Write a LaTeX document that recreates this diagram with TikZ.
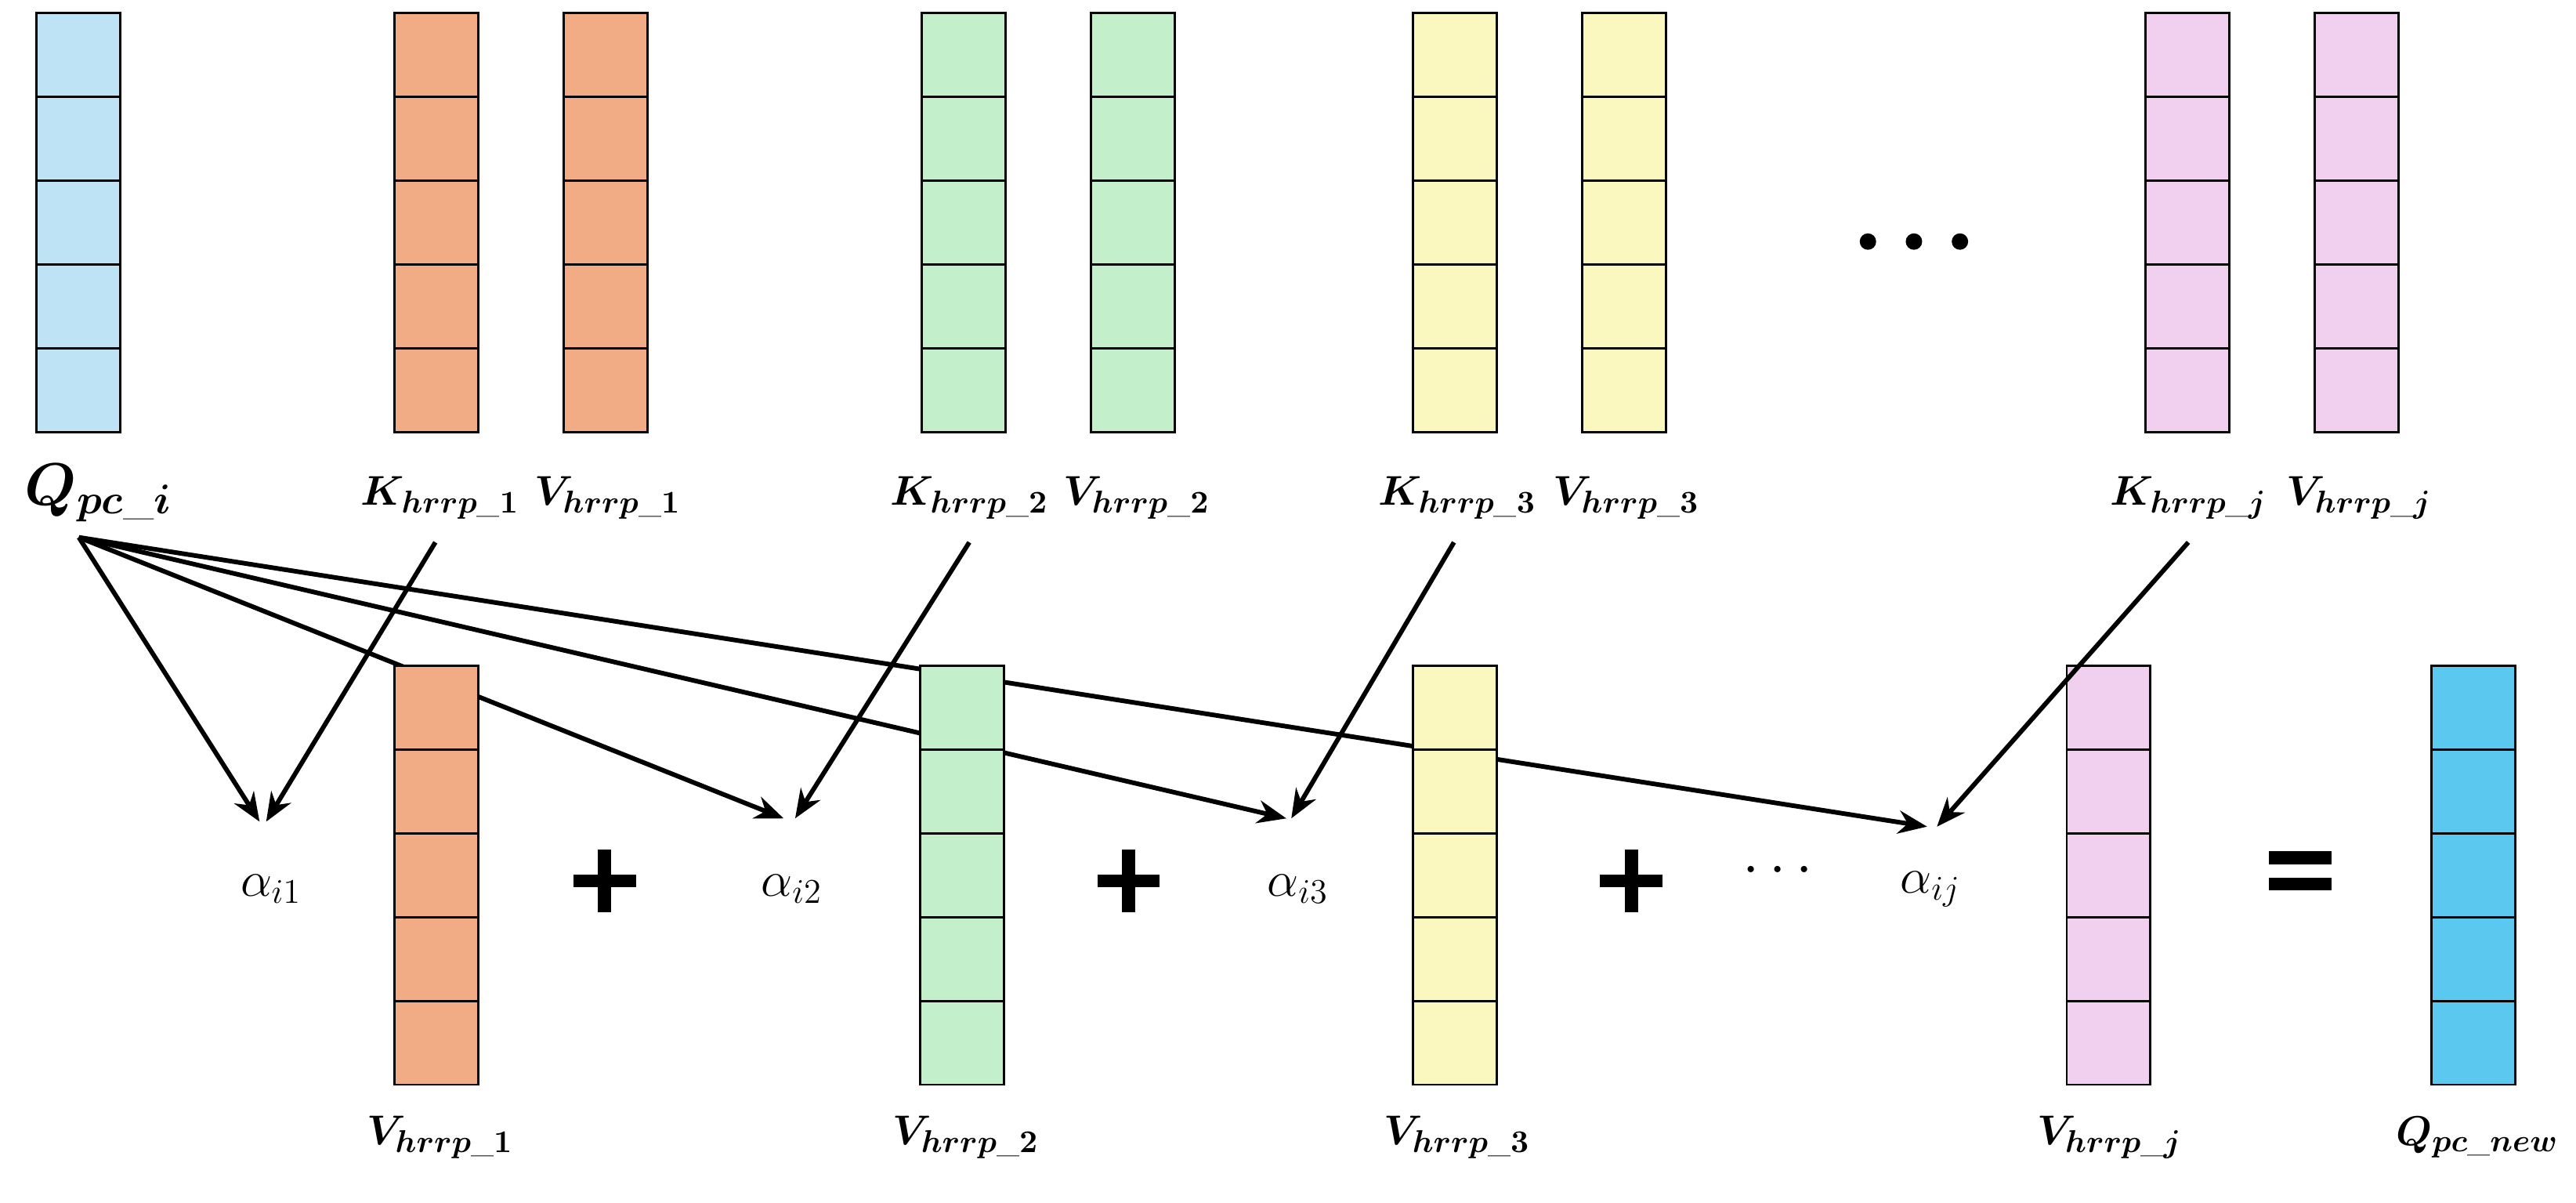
\documentclass[tikz,border=0pt]{standalone}
\usepackage{amsmath,bm}
\usetikzlibrary{arrows.meta,calc}
\definecolor{cq}{HTML}{BDE3F5}
\definecolor{co}{HTML}{F2AC85}
\definecolor{cg}{HTML}{C3F0CB}
\definecolor{cy}{HTML}{FAF8BE}
\definecolor{cp}{HTML}{F0D0EE}
\definecolor{cn}{HTML}{5BC8F0}
\begin{document}
\begin{tikzpicture}[x=0.02cm,y=-0.02cm,
  arr/.style={line width=1.6pt,-{Stealth[length=10pt,width=8pt]}},
  lbl/.style={font=\fontsize{15}{18}\selectfont},
  sym/.style={line width=4.5pt}]
\useasboundingbox (0,0) rectangle (1568,732);
\newcommand{\vcol}[4]{% x, ytop, color, name
  \foreach \k in {0,...,4}{\draw[fill=#3,line width=0.8pt] (#1,{#2+\k*51}) rectangle ({#1+51},{#2+(\k+1)*51});}
  \coordinate (#4) at ({#1+25.5},{#2+127.5});}
\vcol{22}{8}{cq}{q}
\vcol{240}{8}{co}{k1}\vcol{343}{8}{co}{v1}
\vcol{561}{8}{cg}{k2}\vcol{664}{8}{cg}{v2}
\vcol{860}{8}{cy}{k3}\vcol{963}{8}{cy}{v3}
\vcol{1306}{8}{cp}{kj}\vcol{1409}{8}{cp}{vj}
\foreach \xx in {1137,1165,1193} \fill (\xx,147) circle (5);
\node[font=\fontsize{22}{24}\selectfont] (ql) at (60,300) {$\bm{Q_{pc\_i}}$};
\node[lbl] (kl1) at (268,303) {$\bm{K_{hrrp\_1}}$};
\node[lbl] (vl1) at (370,303) {$\bm{V_{hrrp\_1}}$};
\node[lbl] (kl2) at (590,303) {$\bm{K_{hrrp\_2}}$};
\node[lbl] (vl2) at (692,303) {$\bm{V_{hrrp\_2}}$};
\node[lbl] (kl3) at (887,303) {$\bm{K_{hrrp\_3}}$};
\node[lbl] (vl3) at (990,303) {$\bm{V_{hrrp\_3}}$};
\node[lbl] (klj) at (1332,303) {$\bm{K_{hrrp\_j}}$};
\node[lbl] (vlj) at (1436,303) {$\bm{V_{hrrp\_j}}$};
\node[lbl] at (268,692) {$\bm{V_{hrrp\_1}}$};
\node[lbl] at (588,692) {$\bm{V_{hrrp\_2}}$};
\node[lbl] at (887,692) {$\bm{V_{hrrp\_3}}$};
\node[lbl] at (1284,692) {$\bm{V_{hrrp\_j}}$};
\node[lbl] at (1508,692) {$\bm{Q_{pc\_new}}$};
\node[font=\fontsize{18}{20}\selectfont] (a1) at (165,541) {$\alpha_{i1}$};
\node[font=\fontsize{18}{20}\selectfont] (a2) at (482,541) {$\alpha_{i2}$};
\node[font=\fontsize{18}{20}\selectfont] (a3) at (790,541) {$\alpha_{i3}$};
\node[font=\fontsize{18}{20}\selectfont] (aj) at (1175,541) {$\alpha_{ij}$};
\foreach \cx in {368,687,993}{\draw[sym] (\cx-19,536) -- (\cx+19,536) (\cx,517) -- (\cx,555);}
\draw[sym] (1381,522) -- (1419,522) (1381,538) -- (1419,538);
\node[font=\fontsize{20}{20}\selectfont] at (1085,530) {$\cdots$};
\coordinate (qs) at (48,327);
\coordinate (t1) at (158,500);\coordinate (t2) at (477,498);\coordinate (t3) at (783,498);\coordinate (tj) at (1173,503);
\draw[arr] (qs) -- (t1);\draw[arr] (qs) -- (t2);\draw[arr] (qs) -- (t3);\draw[arr] (qs) -- (tj);
\vcol{240}{405}{co}{b1}\vcol{560}{405}{cg}{b2}\vcol{860}{405}{cy}{b3}\vcol{1258}{405}{cp}{bj}
\vcol{1480}{405}{cn}{bn}
\draw[arr] (265,330) -- ($(t1)+(4,0)$);
\draw[arr] (590,330) -- ($(t2)+(7,0)$);
\draw[arr] (885,330) -- ($(t3)+(3,0)$);
\draw[arr] (1332,330) -- ($(tj)+(6,0)$);
\end{tikzpicture}
\end{document}
